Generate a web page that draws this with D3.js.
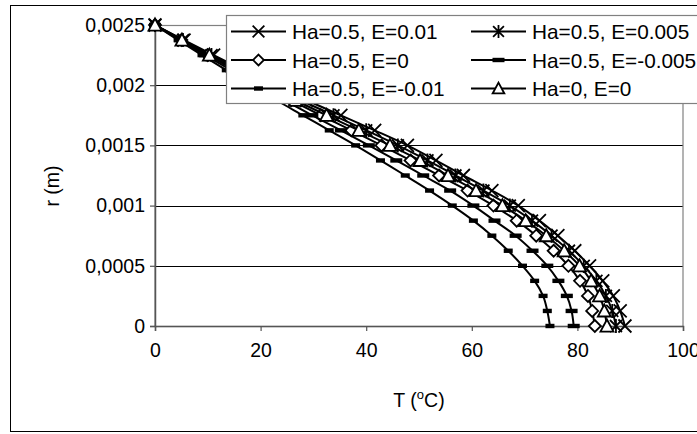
<!DOCTYPE html>
<html><head><meta charset="utf-8">
<script src="https://cdn.jsdelivr.net/npm/d3@7"></script>
<style>
body{margin:0;background:#fff}
svg{display:block}
text{font-family:"Liberation Sans",Arial,sans-serif;fill:#000}
</style>
</head><body>
<svg id="chart" width="697" height="434"></svg>
<script>
// ---- data ----
const radius = [0.0025,0.002375,0.00225,0.002125,0.002,0.001875,0.00175,0.001625,0.0015,0.001375,0.00125,0.001125,0.001,0.000875,0.00075,0.000625,0.0005,0.000375,0.00025,0.000125,0];
const tHa05E001  = [0,5.5,11.1,16.8,22.6,28.7,35.2,41.6,47.8,53.2,58.4,63.8,68.8,72.8,76.3,79.5,82.3,84.8,86.8,88.1,89.0];
const tHa05E0005 = [0,5.3,10.7,16.2,21.8,27.6,33.8,40.0,46.0,51.6,56.9,62.2,67.2,71.4,75.1,78.4,81.2,83.6,85.4,86.6,87.3];
const tHa05E0    = [0,5.0,10.0,15.1,20.4,25.8,31.4,37.2,42.9,48.4,53.8,59.2,64.1,68.5,72.2,75.5,78.3,80.5,82.0,82.8,83.3];
const tHa05Em0005= [0,4.7,9.5,14.4,19.3,24.5,29.8,35.2,40.5,45.7,50.8,55.9,60.3,64.3,68.3,71.5,74.3,76.4,78.0,78.9,79.3];
const tHa05Em001 = [0,4.4,8.9,13.5,18.2,23.0,28.0,33.0,38.0,42.7,47.4,52.0,56.3,60.3,63.8,66.9,69.6,71.9,73.5,74.3,74.8];
const tHa0E0     = [0,5.1,10.3,15.6,21.0,26.6,32.5,38.6,44.5,50.2,55.5,60.8,65.8,70.2,74.1,77.5,80.4,82.6,84.2,85.1,85.6];
const seriesNames = ["Ha=0.5, E=0.01","Ha=0.5, E=0.005","Ha=0.5, E=0","Ha=0.5, E=-0.005","Ha=0.5, E=-0.01","Ha=0, E=0"];
const seriesMarkers = ["x","star","diamond","thickdash","dash","triangle"];
const xTicks = [0,20,40,60,80,100];
const yTicks = [0,0.0005,0.001,0.0015,0.002,0.0025];

const seriesValues = [tHa05E001,tHa05E0005,tHa05E0,tHa05Em0005,tHa05Em001,tHa0E0];

// ---- layout ----
const svg = d3.select("#chart");
const FS = 19.5;
const x = d3.scaleLinear().domain([0,100]).range([155,683]);
const y = d3.scaleLinear().domain([0,0.0025]).range([326,25]);

// chart area border
svg.append("rect").attr("x",10.5).attr("y",5.5).attr("width",760).attr("height",426)
  .attr("fill","#fff").attr("stroke","#000").attr("stroke-width",1);

// gridlines
svg.append("g").selectAll("line").data(yTicks.filter(v=>v>0 && v<0.0025)).join("line")
  .attr("x1",x(0)).attr("x2",x(100))
  .attr("y1",d=>Math.round(y(d))+0.5).attr("y2",d=>Math.round(y(d))+0.5)
  .attr("stroke","#000").attr("stroke-width",1);

// plot area border
svg.append("rect").attr("x",x(0)).attr("y",Math.round(y(0.0025))+0.5)
  .attr("width",x(100)-x(0)).attr("height",y(0)-y(0.0025))
  .attr("fill","none").attr("stroke","#808080").attr("stroke-width",1.2);

// axes
const fmt = v => String(v).replace(".",",");
const yAxis = svg.append("g").attr("transform",`translate(${x(0)},0)`)
  .call(d3.axisLeft(y).tickValues(yTicks).tickFormat(fmt).tickSize(5).tickPadding(5));
const xAxis = svg.append("g").attr("transform",`translate(0,${y(0)})`)
  .call(d3.axisBottom(x).tickValues(xTicks).tickFormat(d=>String(d)).tickSize(5).tickPadding(12));
[yAxis,xAxis].forEach(a=>{
  a.select(".domain").attr("stroke","#555").attr("stroke-width",1.5);
  a.selectAll(".tick line").attr("stroke","#555").attr("stroke-width",1.2);
  a.selectAll(".tick text").attr("font-size",FS).attr("font-family","Liberation Sans, Arial, sans-serif").attr("fill","#000");
});

// axis titles
svg.append("text").attr("transform","translate(52,186) rotate(-90)")
  .attr("text-anchor","middle").attr("dy","0.35em").attr("font-size",FS).text("r (m)");
const xt = svg.append("text").attr("x",(x(0)+x(100))/2).attr("y",407)
  .attr("text-anchor","middle").attr("font-size",FS);
xt.append("tspan").text("T (");
xt.append("tspan").attr("font-size",13).attr("dy",-8).text("o");
xt.append("tspan").attr("dy",8).text("C)");

// markers
function drawMarker(g, type, s){
  s = s || 1;
  if(type==="x"){
    const a=6.5*s;
    g.append("path").attr("d",`M${-a},${-a}L${a},${a}M${-a},${a}L${a},${-a}`)
      .attr("stroke","#000").attr("stroke-width",1.8).attr("fill","none");
  } else if(type==="star"){
    const a=6*s;
    g.append("path").attr("d",`M${-a},${-a}L${a},${a}M${-a},${a}L${a},${-a}M0,${-a-1}L0,${a+1}`)
      .attr("stroke","#000").attr("stroke-width",1.8).attr("fill","none");
  } else if(type==="diamond"){
    const a=6*s;
    g.append("path").attr("d",`M0,${-a}L${a},0L0,${a}L${-a},0Z`)
      .attr("stroke","#000").attr("stroke-width",1.8).attr("fill","#fff");
  } else if(type==="triangle"){
    const a=6.5*s;
    g.append("path").attr("d",`M0,${-a}L${a},${a*0.85}L${-a},${a*0.85}Z`)
      .attr("stroke","#000").attr("stroke-width",1.8).attr("fill","#fff");
  } else if(type==="thickdash"){
    g.append("rect").attr("x",-6).attr("y",-2.2).attr("width",12).attr("height",4.4).attr("fill","#000");
  } else if(type==="dash"){
    g.append("rect").attr("x",-4.5).attr("y",-2.2).attr("width",9).attr("height",4.4).attr("fill","#000");
  }
}

const line = d3.line().x(d=>x(d[0])).y(d=>y(d[1])).curve(d3.curveMonotoneY);
const plot = svg.append("g");
seriesValues.forEach((vals,si)=>{
  const pts = vals.map((t,i)=>[t,radius[i]]);
  const g = plot.append("g");
  g.append("path").datum(pts).attr("d",line).attr("fill","none")
    .attr("stroke","#000").attr("stroke-width",2);
  pts.forEach(p=>{
    const mg = g.append("g").attr("transform",`translate(${x(p[0])},${y(p[1])})`);
    drawMarker(mg, seriesMarkers[si]);
  });
});

// legend
const leg = svg.append("g");
leg.append("rect").attr("x",226.5).attr("y",15.5).attr("width",520).attr("height",88)
  .attr("fill","#fff").attr("stroke","#808080").attr("stroke-width",1.2);
const colX = [231, 471];
const rowY = [31.5, 60, 88.5];
seriesNames.forEach((name,i)=>{
  const cx = colX[i%2], cy = rowY[Math.floor(i/2)];
  const g = leg.append("g").attr("transform",`translate(${cx},${cy})`);
  g.append("line").attr("x1",0).attr("x2",55).attr("y1",0).attr("y2",0).attr("stroke","#000").attr("stroke-width",2);
  const mg = g.append("g").attr("transform","translate(27.5,0)");
  drawMarker(mg, seriesMarkers[i], 0.9);
  g.append("text").attr("x",61).attr("y",0).attr("dy","0.36em").attr("font-size",20.8).text(name);
});
</script>
</body></html>
